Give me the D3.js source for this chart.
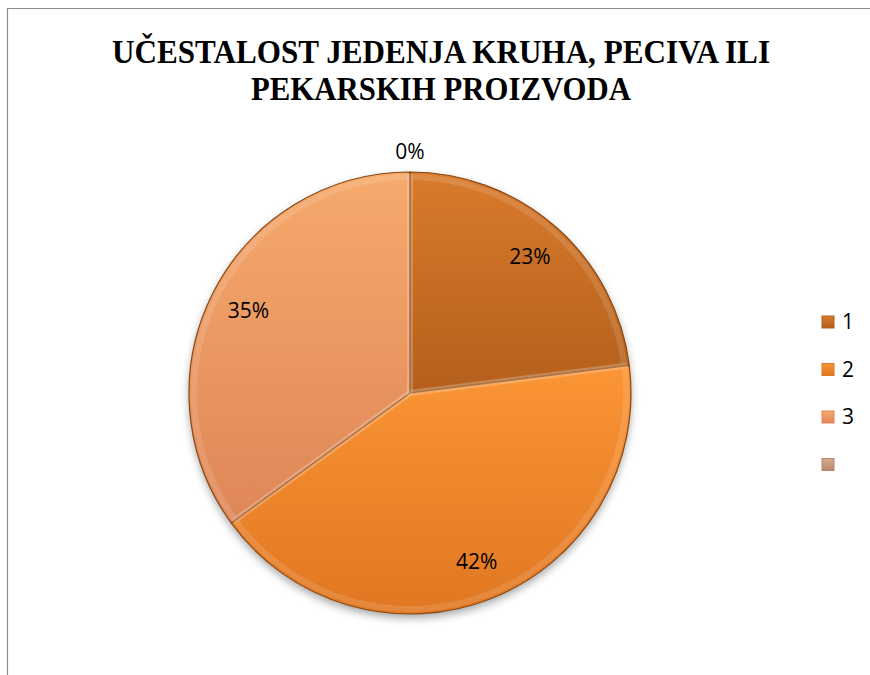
<!DOCTYPE html>
<html>
<head>
<meta charset="utf-8">
<script src="https://d3js.org/d3.v7.min.js"></script>
<style>
  body { margin: 0; background: #fff; }
</style>
</head>
<body>
<svg width="870" height="675"></svg>
<script>
// chart data
var categories = ['1', '2', '3', ''];
var values = [23, 42, 35, 0];
var labels = ['23%', '42%', '35%', '0%'];
var titleLines = ['UČESTALOST JEDENJA KRUHA, PECIVA ILI', 'PEKARSKIH PROIZVODA'];

// top/bottom colours for each slice gradient
var colorsTop = ['#d97b2c', '#fb9535', '#f6aa6c', '#d9ad94'];
var colorsBottom = ['#b35f1c', '#e07722', '#df8658', '#b8866c'];

var svg = d3.select('svg');
var defs = svg.append('defs');

colorsTop.forEach(function(c, i) {
  var g = defs.append('linearGradient')
    .attr('id', 'grad' + i)
    .attr('x1', 0).attr('y1', 0).attr('x2', 0).attr('y2', 1);
  g.append('stop').attr('offset', '0%').attr('stop-color', c);
  g.append('stop').attr('offset', '100%').attr('stop-color', colorsBottom[i]);
});

var shadow = defs.append('filter').attr('id', 'shadow')
  .attr('x', '-20%').attr('y', '-20%').attr('width', '140%').attr('height', '140%');
shadow.append('feDropShadow')
  .attr('dx', 0).attr('dy', 4).attr('stdDeviation', 4)
  .attr('flood-color', '#000').attr('flood-opacity', 0.35);

// frame
svg.append('path')
  .attr('d', 'M7.5,675 V8.5 H870')
  .attr('fill', 'none')
  .attr('stroke', '#8c8c8c')
  .attr('stroke-width', 1.2);

// title
svg.append('g').selectAll('text')
  .data(titleLines)
  .enter().append('text')
  .attr('x', 441)
  .attr('y', function(d, i) { return 63 + i * 37; })
  .attr('text-anchor', 'middle')
  .attr('font-family', 'Liberation Serif, serif')
  .attr('font-weight', 'bold')
  .attr('font-size', 33)
  .attr('textLength', function(d, i) { return i === 0 ? 658 : 380; })
  .attr('lengthAdjust', 'spacingAndGlyphs')
  .text(function(d) { return d; });

// pie
var cx = 410, cy = 393, r = 221;
var pie = d3.pie().sort(null).value(function(d) { return d; });
var arcs = pie(values);
var arc = d3.arc().innerRadius(0).outerRadius(r);
var labelArc = d3.arc().innerRadius(r * 0.82).outerRadius(r * 0.82);
var outerLabelArc = d3.arc().innerRadius(r + 20).outerRadius(r + 20);

var pieG = svg.append('g').attr('transform', 'translate(' + cx + ',' + cy + ')');

pieG.append('circle')
  .attr('r', r)
  .attr('fill', '#c0661f')
  .attr('filter', 'url(#shadow)');

pieG.selectAll('path.slice')
  .data(arcs)
  .enter().append('path')
  .attr('class', 'slice')
  .attr('d', arc)
  .attr('fill', function(d, i) { return 'url(#grad' + i + ')'; })
  .attr('stroke', '#8a4a16')
  .attr('stroke-width', 1.2);

// bevel highlight
var bevelArc = d3.arc().innerRadius(0).outerRadius(r - 5);
pieG.selectAll('path.bevel')
  .data(arcs.filter(function(d) { return d.value > 0; }))
  .enter().append('path')
  .attr('class', 'bevel')
  .attr('d', bevelArc)
  .attr('fill', 'none')
  .attr('stroke', '#ffffff')
  .attr('stroke-opacity', 0.12)
  .attr('stroke-width', 6);

// data labels
pieG.selectAll('text')
  .data(arcs)
  .enter().append('text')
  .attr('transform', function(d) {
    var p = d.value > 0 ? labelArc.centroid(d) : outerLabelArc.centroid(d);
    return 'translate(' + p[0] + ',' + p[1] + ')';
  })
  .attr('text-anchor', 'middle')
  .attr('dy', '0.35em')
  .attr('font-family', 'Open Sans, sans-serif')
  .attr('font-size', 21)
  .attr('fill', '#000')
  .text(function(d, i) { return labels[i]; });

// legend
var legend = svg.append('g').attr('transform', 'translate(822,322)');
var item = legend.selectAll('g')
  .data(categories)
  .enter().append('g')
  .attr('transform', function(d, i) { return 'translate(0,' + i * 47.5 + ')'; });

item.append('rect')
  .attr('x', 0).attr('y', -6)
  .attr('width', 12).attr('height', 12)
  .attr('fill', function(d, i) { return 'url(#grad' + i + ')'; })
  .attr('stroke', function(d, i) { return colorsBottom[i]; })
  .attr('stroke-width', 1);

item.append('text')
  .attr('x', 20)
  .attr('dy', '0.35em')
  .attr('font-family', 'Open Sans, sans-serif')
  .attr('font-size', 21)
  .text(function(d) { return d; });
</script>
</body>
</html>
